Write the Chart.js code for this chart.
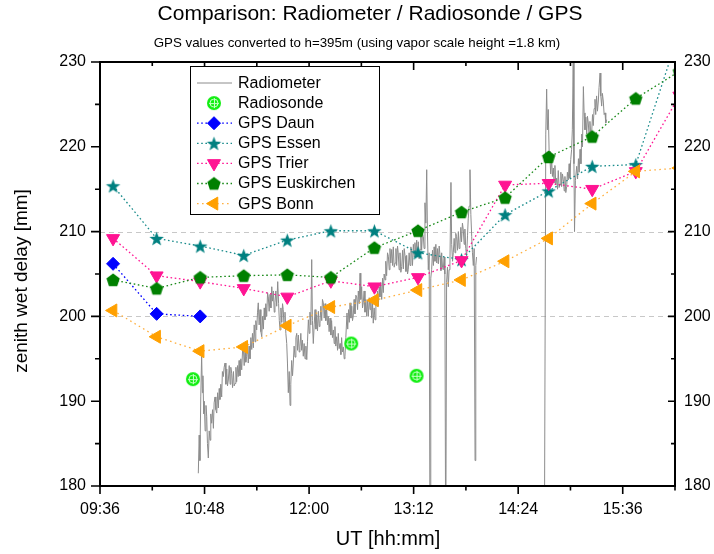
<!DOCTYPE html>
<html><head><meta charset="utf-8">
<script src="https://cdn.jsdelivr.net/npm/chart.js@4.4.1/dist/chart.umd.min.js"></script>
<style>html,body{margin:0;padding:0;background:#fff;overflow:hidden}#wrap{position:relative;width:714px;height:554px}</style>
</head><body><div id="wrap"><canvas id="c" width="714" height="554"></canvas></div>
<script>
// ---------- data ----------
const titleText = 'Comparison: Radiometer / Radiosonde / GPS';
const subtitleText = 'GPS values converted to h=395m (using vapor scale height =1.8 km)';
const xTitle = 'UT [hh:mm]';
const yTitle = 'zenith wet delay [mm]';

const xMin = '09:36', xMax = '16:12';
const xStepMin = 36, xLabelEvery = 72;
const yMin = 180, yMax = 230, yStep = 5, yLabelEvery = 10;
const dashedLevels = [200, 210];

const gpsTimes = ['09:45','10:15','10:45','11:15','11:45','12:15','12:45','13:15','13:45','14:15','14:45','15:15','15:45','16:15'];
const gpsDaun       = [206.2, 200.3, 200.0];
const gpsEssen      = [215.4, 209.2, 208.3, 207.2, 209.0, 210.1, 210.1, 207.5, 206.7, 212.0, 214.8, 217.7, 217.9, 233.6];
const gpsTrier      = [209.2, 204.8, 204.1, 203.3, 202.3, 204.2, 203.5, 204.6, 206.6, 215.5, 215.7, 215.0, 217.1, 226.0];
const gpsEuskirchen = [204.3, 203.3, 204.6, 204.8, 204.9, 204.6, 208.1, 210.1, 212.3, 214.0, 218.8, 221.2, 225.7, 228.9];
const gpsBonn       = [200.7, 197.6, 195.9, 196.4, 198.9, 201.1, 201.9, 203.1, 204.3, 206.5, 209.2, 213.3, 217.1, 217.5];

const sondeTimes = ['10:40', '12:29', '13:14'];
const sondeZwd   = [192.6, 196.8, 193.0];

// radiometer: [minutes after midnight (UT), zenith wet delay]; null = data gap
const radiometer = [
[643.7,181.5],[644.3,186.0],[644.8,183.0],[645.4,190.5],[646.0,195.5],[646.5,191.0],[646.9,193.0],[647.4,188.5],[647.8,190.0],[648.4,186.5],
[649.0,189.5],[649.5,188.2],[650.0,185.0],[650.6,183.3],[651.2,186.5],[651.8,185.4],[652.3,188.5],[652.9,187.4],[653.5,189.0],[654.1,186.8],
[654.6,189.8],[655.2,190.5],[655.8,189.0],[656.4,188.6],[657.0,191.0],[657.5,189.2],[658.1,191.5],[658.6,190.2],[659.2,192.0],[659.8,190.5],
[660.3,193.5],[660.9,192.9],[661.5,194.0],[662.1,194.5],[662.7,192.0],[663.3,193.8],[663.8,191.8],[664.4,192.5],[665.0,194.2],[665.6,192.0],
[666.1,194.0],[666.7,193.3],[667.3,191.6],[667.9,193.5],[668.4,191.8],[669.0,192.1],[669.6,194.0],[670.1,192.3],[670.7,194.2],[671.2,192.9],
[671.8,194.8],[672.4,193.0],[673.0,195.0],[673.6,193.7],[674.2,196.0],[674.7,196.4],[675.3,194.2],[675.9,196.2],[676.4,194.6],[677.0,195.3],
[677.6,197.0],[678.1,194.5],[678.7,196.5],[679.3,195.0],[679.9,197.5],[680.5,196.1],[681.0,198.0],[681.6,196.3],[682.2,199.0],[682.8,197.0],
[683.3,199.5],[683.9,198.4],[684.5,200.5],[685.0,201.6],[685.6,199.0],[686.2,200.8],[686.8,198.2],[687.4,197.6],[688.0,200.0],[688.5,198.5],
[689.1,201.0],[689.6,199.6],[690.2,201.5],[690.8,200.0],[691.4,202.8],[691.9,202.3],[692.5,200.6],[693.1,202.6],[693.7,201.0],[694.3,203.5],
[694.8,201.8],[695.4,203.0],[696.0,200.5],[696.5,201.6],[697.1,203.0],[697.7,201.2],[698.4,204.1],[699.0,201.5],[699.5,199.5],[700.0,198.4],
[700.6,201.0],[701.2,199.3],[701.7,201.5],[702.2,200.8],[702.8,198.6],[703.4,200.5],[704.0,198.0],[704.6,196.8],[705.1,194.5],[705.7,191.0],
[706.3,193.5],[706.9,189.5],[707.4,192.0],[708.0,194.8],[708.6,193.0],[709.1,194.5],[709.7,196.5],[710.3,195.2],[710.9,197.5],[711.5,198.0],
[712.0,196.0],[712.6,197.8],[713.2,195.8],[713.7,196.4],[714.3,198.0],[714.9,196.0],[715.4,197.2],[716.0,195.3],[716.6,196.8],[717.2,195.0],
[717.8,196.5],[718.4,194.9],[718.9,197.0],[719.5,199.6],[720.1,198.0],[720.6,200.5],[721.2,199.0],[721.8,206.7],[722.3,199.5],[722.9,196.8],
[723.5,199.0],[724.1,200.8],[724.7,198.5],[725.2,200.2],[725.8,198.3],[726.4,200.6],[727.0,198.8],[727.5,199.2],[728.1,201.2],[728.7,199.5],
[729.2,202.0],[729.8,201.6],[730.4,199.8],[731.0,201.5],[731.5,199.5],[732.1,201.0],[732.7,199.0],[733.2,200.0],[733.8,198.2],[734.4,199.8],
[735.0,197.8],[735.5,199.5],[736.1,197.5],[736.7,198.4],[737.3,196.8],[737.8,198.8],[738.4,196.5],[739.0,197.6],[739.6,196.0],[740.1,198.0],
[740.7,196.2],[741.3,196.8],[741.9,195.5],[742.4,197.5],[743.0,195.8],[743.6,196.4],[744.2,195.0],[744.7,195.3],[745.3,197.5],[746.1,200.4],
[746.6,198.5],[747.2,200.8],[747.7,199.3],[748.2,201.6],[748.8,199.8],[749.4,201.2],[749.9,199.5],[750.4,200.0],[751.0,202.0],[751.6,200.3],
[752.2,202.5],[752.8,202.3],[753.4,200.8],[753.9,203.0],[754.5,201.5],[755.1,205.1],[755.6,202.0],[756.2,203.5],[756.8,201.0],[757.3,201.6],
[757.9,203.0],[758.5,200.5],[759.1,202.0],[759.7,200.0],[760.2,201.8],[760.8,200.0],[761.4,202.2],[762.0,200.8],[762.5,202.0],[763.1,199.8],
[763.7,201.5],[764.2,199.2],[764.8,201.0],[765.4,199.6],[766.0,202.0],[766.6,201.6],[767.1,203.0],[767.7,201.2],[768.3,203.5],[768.8,202.3],
[769.4,204.0],[770.0,202.0],[770.6,204.5],[771.1,202.8],[771.7,205.0],[772.3,204.3],[772.8,206.5],[773.4,204.8],[774.0,207.5],[774.6,207.1],
[775.2,205.5],[775.7,208.0],[776.3,206.3],[776.9,207.9],[777.5,206.0],[778.0,208.2],[778.6,205.8],[779.2,206.3],[779.8,208.0],[780.3,206.0],
[780.9,208.3],[781.4,207.5],[782.0,205.5],[782.6,207.5],[783.2,205.2],[783.8,205.9],[784.4,207.8],[784.9,205.6],[785.5,208.0],[786.1,207.1],
[786.7,205.3],[787.2,207.2],[787.8,205.0],[788.3,205.5],[788.9,207.5],[789.5,206.0],[790.1,208.2],[790.7,207.5],[791.2,206.0],[791.8,208.5],
[792.4,207.0],[792.9,208.7],[793.5,207.2],[794.1,209.0],[794.7,207.0],[795.2,208.8],[795.8,206.8],[796.4,207.9],[797.0,209.5],[797.5,207.8],
[798.1,209.8],[798.7,209.4],[799.2,208.0],[799.8,213.4],[800.4,211.0],[801.0,217.3],[801.5,210.0],[802.1,205.5],[802.7,207.5],[803.3,170.0],
[803.8,204.5],[804.4,205.5],[805.0,207.8],[805.6,206.0],[806.1,208.2],[806.7,206.5],[807.3,208.5],[807.9,206.3],[808.5,208.0],[809.0,206.2],
[809.6,208.3],[810.2,207.1],[810.8,205.4],[811.3,207.5],[811.9,205.8],[812.4,205.5],[813.0,207.0],[813.5,205.0],[814.1,170.0],[814.7,204.0],
[815.3,205.8],[815.9,203.5],[816.4,205.5],[817.0,206.3],[817.7,215.8],[818.2,208.5],[818.8,206.5],[819.3,207.5],[819.9,209.2],[820.5,207.5],
[821.0,209.8],[821.6,209.4],[822.2,207.8],[822.8,210.0],[823.3,208.0],[823.9,208.7],[824.5,210.5],[825.0,208.8],[825.6,211.0],[826.2,210.2],
[826.8,208.5],[827.3,210.3],[827.9,208.0],[828.5,207.1],[829.1,209.5],[829.6,211.5],[830.2,213.0],[830.8,217.3],[831.4,212.0],[832.0,209.4],
[832.5,207.5],[833.1,206.0],[833.7,208.0],[834.3,183.0],[834.8,206.0],[835.3,207.0],[836.0,null],
[882.0,170.0],[883.0,221.5],[883.6,226.8],[884.1,222.0],[884.7,224.4],[885.3,219.5],[885.9,218.5],[886.4,216.8],[887.0,218.6],[887.6,216.5],
[888.2,217.5],[888.7,215.8],[889.3,217.8],[889.9,215.5],[890.5,216.3],[891.1,215.0],[891.6,217.2],[892.2,215.2],[892.8,215.6],[893.4,217.0],
[893.9,215.3],[894.5,216.8],[895.1,216.1],[895.7,214.8],[896.2,216.5],[896.8,214.6],[897.4,215.3],[897.9,217.0],[898.5,216.1],[899.1,218.0],
[899.6,216.3],[900.2,218.5],[900.8,219.7],[901.3,222.0],[901.9,229.9],[902.4,218.0],[902.8,210.0],[903.4,216.0],[904.3,217.7],[904.9,216.2],
[905.5,218.6],[906.0,217.0],[906.6,219.7],[907.2,218.0],[907.8,221.5],[908.3,220.0],[908.9,227.1],[909.4,224.0],[910.0,222.0],[910.6,223.5],
[911.2,221.5],[911.7,223.6],[912.3,222.8],[912.9,221.0],[913.4,223.0],[914.0,221.2],[914.6,221.6],[915.2,223.8],[915.7,222.5],[916.3,224.5],
[916.9,225.6],[917.4,223.8],[918.0,226.0],[918.6,224.2],[919.2,225.4],[919.7,227.0],[920.4,228.7],[920.9,226.0],[921.5,224.8],[922.0,226.3],
[922.6,225.4],[923.2,223.8],[923.8,224.0],[924.3,222.8],[924.9,223.2]
];

// ---------- helpers ----------
const FONT = '"Liberation Sans", Arial, sans-serif';
const toMin = s => { const p = s.split(':').map(Number); return p[0]*60 + p[1]; };
const fmt = v => { v = Math.round(v); const h = Math.floor(v/60), m = v % 60; return String(h).padStart(2,'0') + ':' + String(m).padStart(2,'0'); };
const pts = (times, vals) => vals.map((v, i) => ({ x: toMin(times[i]), y: v }));

function makeCanvas(size, draw) { const c = document.createElement('canvas'); c.width = size; c.height = size; draw(c.getContext('2d'), size/2); return c; }
const starImg = makeCanvas(17, (g, c) => {
  g.fillStyle = '#008080'; g.beginPath();
  for (let i = 0; i < 10; i++) { const r = i % 2 ? 3.1 : 7.6; const a = -Math.PI/2 + i*Math.PI/5; g.lineTo(c + r*Math.cos(a), c + 0.8 + r*Math.sin(a)); }
  g.closePath(); g.fill();
});
const pentImg = makeCanvas(16, (g, c) => {
  g.fillStyle = '#008000'; g.beginPath();
  for (let i = 0; i < 5; i++) { const a = -Math.PI/2 + i*2*Math.PI/5; g.lineTo(c + 7*Math.cos(a), c + 0.6 + 7*Math.sin(a)); }
  g.closePath(); g.fill();
});
const sondeImg = makeCanvas(16, (g, c) => {
  g.fillStyle = '#11ee11'; g.beginPath(); g.arc(c, c, 7, 0, 2*Math.PI); g.fill();
  g.strokeStyle = '#c8ffc8'; g.lineWidth = 1;
  g.beginPath(); g.arc(c, c, 4, 0, 2*Math.PI); g.stroke();
  g.beginPath(); g.moveTo(c-5, c+0.5); g.lineTo(c+5, c+0.5); g.moveTo(c+0.5, c-5); g.lineTo(c+0.5, c+5); g.stroke();
});

const dot = [1.6, 2.6];
const datasets = [
  { label: 'Radiometer', data: radiometer.map(p => ({ x: p[0], y: p[1] })), borderColor: '#8c8c8c', borderWidth: 1, pointRadius: 0, spanGaps: false, order: 7 },
  { label: 'Radiosonde', data: pts(sondeTimes, sondeZwd), showLine: false, pointStyle: sondeImg, pointRadius: 7, order: 6 },
  { label: 'GPS Daun', data: pts(gpsTimes, gpsDaun), borderColor: '#0000ff', borderDash: dot, borderWidth: 1.3, pointStyle: 'rectRot', pointRadius: 6.5, pointBackgroundColor: '#0000ff', pointBorderColor: '#0000ff', pointBorderWidth: 1, order: 5 },
  { label: 'GPS Essen', data: pts(gpsTimes, gpsEssen), borderColor: '#1a8c8c', borderDash: dot, borderWidth: 1.3, pointStyle: starImg, pointRadius: 7, order: 4 },
  { label: 'GPS Trier', data: pts(gpsTimes, gpsTrier), borderColor: '#ff1493', borderDash: dot, borderWidth: 1.3, pointStyle: 'triangle', pointRotation: 180, pointRadius: 7.5, pointBackgroundColor: '#ff1493', pointBorderColor: '#ff1493', pointBorderWidth: 1, order: 3 },
  { label: 'GPS Euskirchen', data: pts(gpsTimes, gpsEuskirchen), borderColor: '#1a8a1a', borderDash: dot, borderWidth: 1.3, pointStyle: pentImg, pointRadius: 7, order: 2 },
  { label: 'GPS Bonn', data: pts(gpsTimes, gpsBonn), borderColor: '#ffb040', borderDash: [1.6, 3.4], borderWidth: 1.3, pointStyle: 'triangle', pointRotation: 270, pointRadius: 7.5, pointBackgroundColor: '#ffa000', pointBorderColor: '#ffa000', pointBorderWidth: 1, order: 1 }
];
datasets.forEach(d => { d.tension = 0; d.fill = false; });

const decor = {
  id: 'decor',
  beforeDatasetsDraw(chart) {
    const { ctx, chartArea: a, scales: { y } } = chart;
    ctx.save(); ctx.strokeStyle = '#c8c8c8'; ctx.lineWidth = 1; ctx.setLineDash([5, 4]);
    dashedLevels.forEach(v => { const py = Math.round(y.getPixelForValue(v)) + 0.5; ctx.beginPath(); ctx.moveTo(a.left, py); ctx.lineTo(a.right, py); ctx.stroke(); });
    ctx.restore();
  },
  afterDraw(chart) {
    const { ctx, chartArea: a, scales: { x, y } } = chart;
    ctx.save();
    ctx.strokeStyle = '#000'; ctx.lineWidth = 2; ctx.setLineDash([]);
    ctx.strokeRect(a.left, a.top, a.right - a.left, a.bottom - a.top);
    ctx.lineWidth = 1.6;
    x.ticks.forEach(t => {
      const px = x.getPixelForValue(t.value); const major = (Math.round(t.value) - toMin(xMin)) % xLabelEvery === 0;
      ctx.beginPath(); ctx.moveTo(px, a.bottom); ctx.lineTo(px, a.bottom + (major ? 8 : 4.5));
      ctx.moveTo(px, a.top); ctx.lineTo(px, a.top + (major ? 8 : 4)); ctx.stroke();
    });
    y.ticks.forEach(t => {
      const py = y.getPixelForValue(t.value); const major = Math.round(t.value) % yLabelEvery === 0;
      ctx.beginPath(); ctx.moveTo(a.left - (major ? 9 : 5), py); ctx.lineTo(a.left, py);
      ctx.moveTo(a.right - (major ? 7 : 4), py); ctx.lineTo(a.right, py); ctx.stroke();
    });
    ctx.fillStyle = '#000'; ctx.textAlign = 'center'; ctx.textBaseline = 'middle';
    ctx.font = '21px ' + FONT; ctx.fillText(titleText, 370, 14);
    ctx.font = '13.3px ' + FONT; ctx.fillText(subtitleText, 357, 43);
    ctx.font = '20px ' + FONT; ctx.fillText(xTitle, 388, 539);
    ctx.save(); ctx.translate(22, 281); ctx.rotate(-Math.PI/2); ctx.font = '19px ' + FONT; ctx.fillText(yTitle, 0, 0); ctx.restore();
    const bx = 190, by = 66, bw = 189, bh = 148;
    ctx.fillStyle = '#fff'; ctx.fillRect(bx, by, bw, bh);
    ctx.strokeStyle = '#000'; ctx.lineWidth = 1; ctx.strokeRect(bx + 0.5, by + 0.5, bw, bh);
    chart.data.datasets.forEach((d, i) => {
      const ry = 83 + i * 20.1;
      if (d.showLine !== false) {
        ctx.save(); ctx.strokeStyle = d.borderColor; ctx.lineWidth = d.borderWidth || 1; ctx.setLineDash(d.borderDash || []);
        ctx.beginPath(); ctx.moveTo(197, ry); ctx.lineTo(232, ry); ctx.stroke(); ctx.restore();
      }
      if (d.pointRadius) {
        ctx.save(); ctx.fillStyle = d.pointBackgroundColor || '#000'; ctx.strokeStyle = d.pointBorderColor || '#000'; ctx.setLineDash([]);
        Chart.helpers.drawPoint(ctx, { pointStyle: d.pointStyle, rotation: d.pointRotation || 0, radius: d.pointRadius, borderWidth: d.pointBorderWidth || 0 }, 214, ry);
        ctx.restore();
      }
      ctx.fillStyle = '#000'; ctx.textAlign = 'left'; ctx.textBaseline = 'middle'; ctx.font = '16px ' + FONT;
      ctx.fillText(d.label, 238, ry + 0.5);
    });
    ctx.restore();
  }
};

const tickFont = { family: FONT, size: 16 };
new Chart(document.getElementById('c'), {
  type: 'line',
  data: { datasets },
  options: {
    responsive: false, animation: false, events: [],
    layout: { padding: { top: 62, left: 0, right: 0, bottom: 0 } },
    plugins: { legend: { display: false }, tooltip: { enabled: false }, title: { display: false } },
    scales: {
      x: { type: 'linear', position: 'bottom', min: toMin(xMin), max: toMin(xMax),
           afterFit: s => { s.height = 68; },
           grid: { display: false, drawTicks: false }, border: { display: false },
           ticks: { stepSize: xStepMin, autoSkip: false, maxRotation: 0, padding: 14, color: '#000', font: tickFont,
                    callback: v => ((Math.round(v) - toMin(xMin)) % xLabelEvery === 0 ? fmt(v) : '') } },
      y: { position: 'left', min: yMin, max: yMax,
           afterFit: s => { s.width = 100; },
           grid: { display: false, drawTicks: false }, border: { display: false },
           ticks: { stepSize: yStep, padding: 14, color: '#000', font: tickFont, callback: v => (Math.round(v) % yLabelEvery === 0 ? String(v) : '') } },
      y2: { position: 'right', min: yMin, max: yMax,
           afterFit: s => { s.width = 39; },
           grid: { display: false, drawTicks: false }, border: { display: false },
           ticks: { stepSize: yStep, padding: 9, color: '#000', font: tickFont, callback: v => (Math.round(v) % yLabelEvery === 0 ? String(v) : '') } }
    }
  },
  plugins: [decor]
});
</script>
</body></html>
